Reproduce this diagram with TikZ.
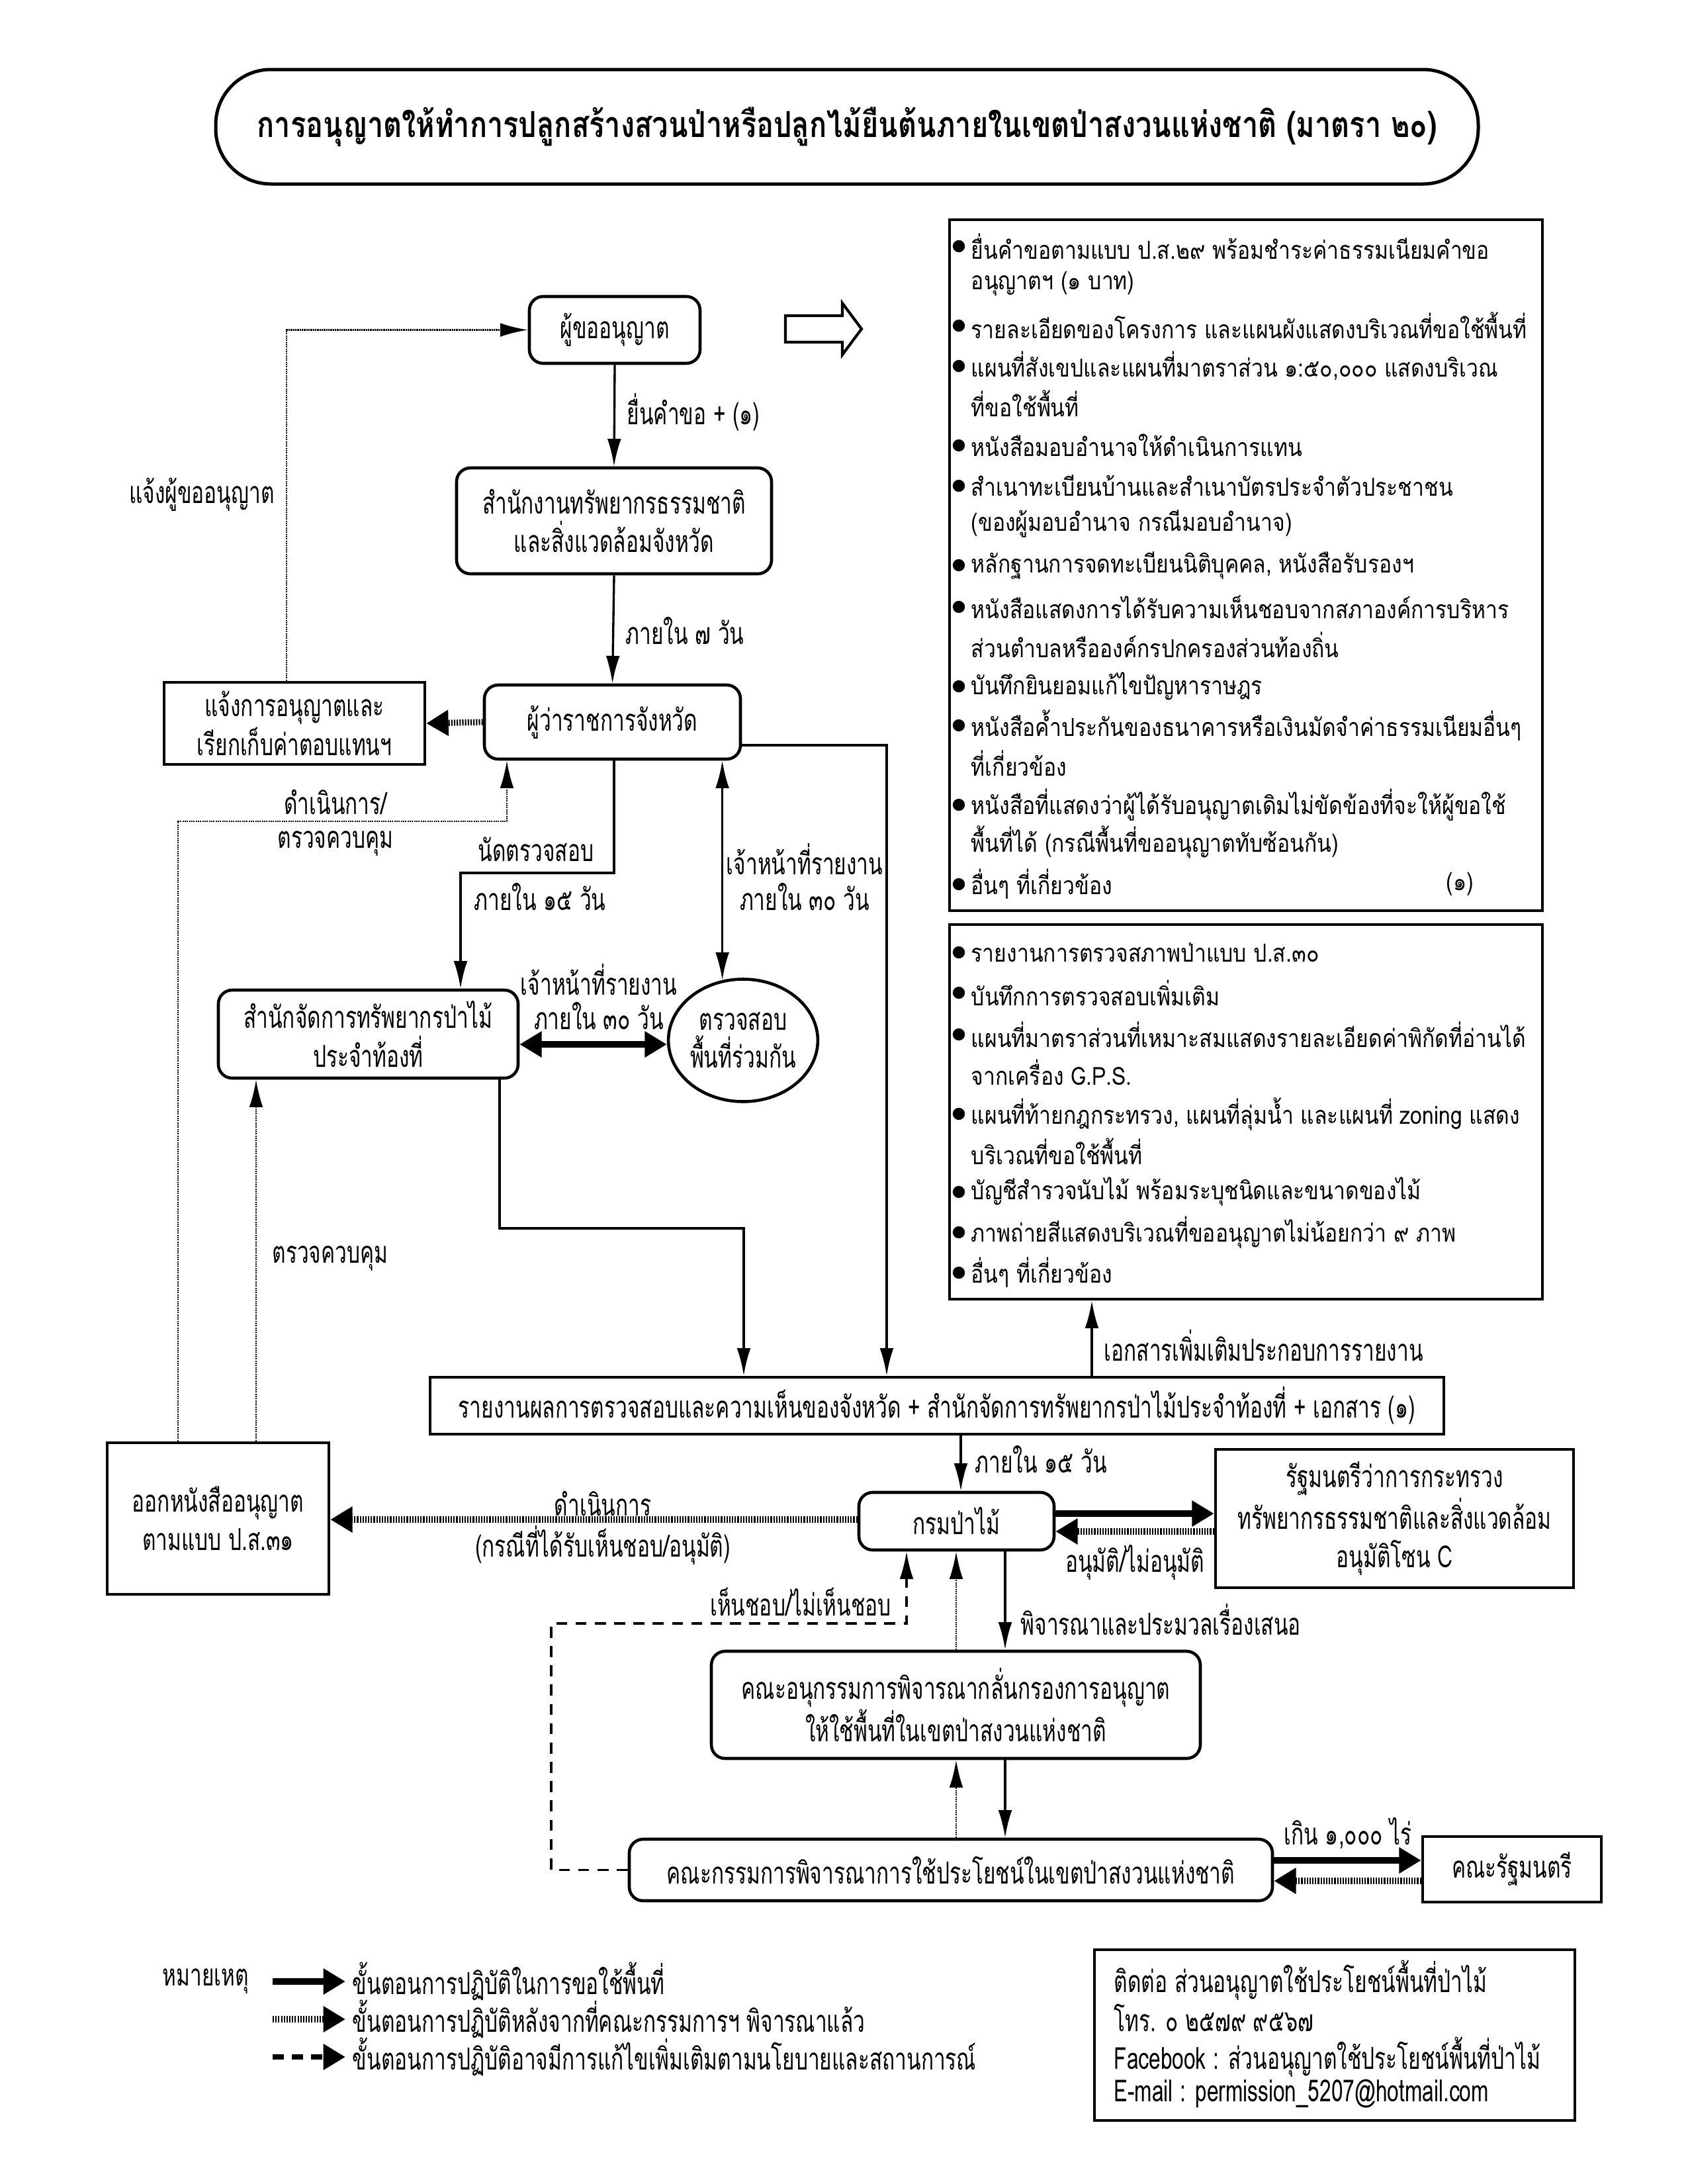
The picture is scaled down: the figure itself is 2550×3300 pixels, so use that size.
\documentclass[tikz,border=0pt]{standalone}
\usepackage{fontspec}
\setmainfont[Script=Thai]{Loma}
\newfontfamily\thc[Script=Thai,FakeStretch=0.69]{Loma}
\newfontfamily\thb[Script=Thai,FakeStretch=0.8]{Loma}
\newfontfamily\thl[Script=Thai,FakeStretch=0.85]{Loma}
\usetikzlibrary{arrows.meta,fit,shapes.geometric}
\begin{document}
\begin{tikzpicture}[x=0.24pt,y=-0.24pt,
  txt/.style={font=\thc\fontsize{11}{14}\selectfont, inner sep=0pt, align=center},
  ltxt/.style={font=\thl\fontsize{9}{12}\selectfont, inner sep=0pt, anchor=west},
  box/.style={draw, line width=1.1pt, inner sep=0pt, align=center, font=\thc\fontsize{11}{13.7}\selectfont},
  rbox/.style={box, rounded corners=5pt},
  arr/.style={line width=0.8pt, -{Latex[length=10pt,width=5pt]}},
  darr/.style={line width=0.8pt, {Latex[length=10pt,width=5pt]}-{Latex[length=10pt,width=5pt]}},
  tkarr/.style={line width=2.2pt, -{Triangle[length=8pt,width=9pt]}},
  tkdarr/.style={line width=2.2pt, {Triangle[length=8pt,width=9pt]}-{Triangle[length=8pt,width=9pt]}},
  dotarr/.style={line width=2.2pt, dash pattern=on 0.5pt off 0.5pt, -{Triangle[length=8pt,width=9pt]}},
  tdot/.style={line width=0.7pt, dash pattern=on 0.5pt off 0.3pt, -{Latex[length=10pt,width=5pt]}},
  dsh/.style={line width=0.8pt, dash pattern=on 4pt off 3pt, -{Latex[length=10pt,width=5pt]}},
  bul/.style={fill=black}
]
\useasboundingbox (0,0) rectangle (2550,3300);

% title
\node[draw, line width=1.2pt, rounded corners=20pt, inner sep=0pt, fit={(326,105) (2234,278)}] (title) {};
\node[font=\thb\bfseries\fontsize{13}{16}\selectfont, inner sep=0pt] (titletext) at (1280,192) {การอนุญาตให้ทำการปลูกสร้างสวนป่าหรือปลูกไม้ยืนต้นภายในเขตป่าสงวนแห่งชาติ (มาตรา ๒๐)};

% boxes
\node[rbox, fit={(800,448) (1058,549)}] (applicant) {};
\node[txt] (applicantT) at (applicant.center) {ผู้ขออนุญาต};
\node[rbox, fit={(690,707) (1166,867)}] (office) {};
\node[txt] (officeT) at (office.center) {สำนักงานทรัพยากรธรรมชาติ\\และสิ่งแวดล้อมจังหวัด};
\node[rbox, fit={(732,1035) (1119,1147)}] (gov) {};
\node[txt] (govT) at (gov.center) {ผู้ว่าราชการจังหวัด};
\node[box, fit={(248,1031) (642,1155)}] (notify) {};
\node[txt] (notifyT) at (notify.center) {แจ้งการอนุญาตและ\\เรียกเก็บค่าตอบแทนฯ};
\node[rbox, fit={(330,1496) (783,1629)}] (forest) {};
\node[txt] (forestT) at (forest.center) {สำนักจัดการทรัพยากรป่าไม้\\ประจำท้องที่};
\node[draw, line width=1.1pt, ellipse, minimum width=50.6pt, minimum height=44.4pt, inner sep=0pt, align=center, font=\thc\fontsize{11}{13.7}\selectfont] (inspect) at (1123,1572) {ตรวจสอบ\\พื้นที่ร่วมกัน};
\node[box, fit={(650,2081) (2182,2167)}] (report) {};
\node[txt] (reportT) at (report.center) {รายงานผลการตรวจสอบและความเห็นของจังหวัด + สำนักจัดการทรัพยากรป่าไม้ประจำท้องที่ + เอกสาร (๑)};
\node[rbox, fit={(1298,2255) (1593,2342)}] (rfd) {};
\node[txt] (rfdT) at (rfd.center) {กรมป่าไม้};
\node[box, fit={(1837,2190) (2378,2399)}] (minister) {};
\node[txt] (ministerT) at (minister.center) {รัฐมนตรีว่าการกระทรวง\\ทรัพยากรธรรมชาติและสิ่งแวดล้อม\\อนุมัติโซน C};
\node[box, fit={(162,2180) (497,2409)}] (issue) {};
\node[txt] (issueT) at (issue.center) {ออกหนังสืออนุญาต\\ตามแบบ ป.ส.๓๑};
\node[rbox, fit={(1075,2495) (1814,2657)}] (subcom) {};
\node[txt] (subcomT) at (subcom.center) {คณะอนุกรรมการพิจารณากลั่นกรองการอนุญาต\\ให้ใช้พื้นที่ในเขตป่าสงวนแห่งชาติ};
\node[rbox, fit={(951,2779) (1923,2872)}] (com) {};
\node[txt] (comT) at (com.center) {คณะกรรมการพิจารณาการใช้ประโยชน์ในเขตป่าสงวนแห่งชาติ};
\node[box, fit={(2150,2775) (2420,2874)}] (cabinet) {};
\node[txt] (cabinetT) at (cabinet.center) {คณะรัฐมนตรี};

% list boxes
\node[box, fit={(1435,332) (2331,1376)}] (list1) {};
\node[box, fit={(1435,1397) (2331,1963)}] (list2) {};
\foreach \y/\t [count=\i] in {372/{ยื่นคำขอตามแบบ ป.ส.๒๙ พร้อมชำระค่าธรรมเนียมคำขอ},
  492/{รายละเอียดของโครงการ และแผนผังแสดงบริเวณที่ขอใช้พื้นที่},
  553/{แผนที่สังเขปและแผนที่มาตราส่วน ๑:๕๐,๐๐๐ แสดงบริเวณ},
  673/{หนังสือมอบอำนาจให้ดำเนินการแทน},
  734/{สำเนาทะเบียนบ้านและสำเนาบัตรประจำตัวประชาชน},
  854/{หลักฐานการจดทะเบียนนิติบุคคล, หนังสือรับรองฯ},
  917/{หนังสือแสดงการได้รับความเห็นชอบจากสภาองค์การบริหาร},
  1037/{บันทึกยินยอมแก้ไขปัญหาราษฎร},
  1096/{หนังสือค้ำประกันของธนาคารหรือเงินมัดจำค่าธรรมเนียมอื่นๆ},
  1216/{หนังสือที่แสดงว่าผู้ได้รับอนุญาตเดิมไม่ขัดข้องที่จะให้ผู้ขอใช้},
  1336/{อื่นๆ ที่เกี่ยวข้อง}}
  {\fill[bul] (1449,\y) circle[radius=2.2pt];
   \node[ltxt] (la\i) at (1467,\y) {\t};}
\foreach \y/\t [count=\i] in {429/{อนุญาตฯ (๑ บาท)},
  610/{ที่ขอใช้พื้นที่},
  791/{(ของผู้มอบอำนาจ กรณีมอบอำนาจ)},
  974/{ส่วนตำบลหรือองค์กรปกครองส่วนท้องถิ่น},
  1153/{ที่เกี่ยวข้อง},
  1273/{พื้นที่ได้ (กรณีพื้นที่ขออนุญาตทับซ้อนกัน)}}
  {\node[ltxt] (lb\i) at (1467,\y) {\t};}
\node[ltxt] (lone) at (2185,1336) {(๑)};
\foreach \y/\t [count=\i] in {1439/{รายงานการตรวจสภาพป่าแบบ ป.ส.๓๐},
  1500/{บันทึกการตรวจสอบเพิ่มเติม},
  1563/{แผนที่มาตราส่วนที่เหมาะสมแสดงรายละเอียดค่าพิกัดที่อ่านได้},
  1683/{แผนที่ท้ายกฎกระทรวง, แผนที่ลุ่มน้ำ และแผนที่ zoning แสดง},
  1801/{บัญชีสำรวจนับไม้ พร้อมระบุชนิดและขนาดของไม้},
  1862/{ภาพถ่ายสีแสดงบริเวณที่ขออนุญาตไม่น้อยกว่า ๙ ภาพ},
  1923/{อื่นๆ ที่เกี่ยวข้อง}}
  {\fill[bul] (1449,\y) circle[radius=2.2pt];
   \node[ltxt] (lc\i) at (1467,\y) {\t};}
\node[ltxt] (ld1) at (1467,1620) {จากเครื่อง G.P.S.};
\node[ltxt] (ld2) at (1467,1740) {บริเวณที่ขอใช้พื้นที่};

% block arrow
\draw[line width=1pt, line join=miter] (1187,477) -- (1273,477) -- (1273,458) -- (1302,497) -- (1273,536) -- (1273,517) -- (1187,517) -- cycle;

% connectors
\draw[arr] (applicant.south) -- (office.north);
\node[txt, anchor=west] (l1) at (947,623) {ยื่นคำขอ + (๑)};
\draw[arr] (office.south) -- (gov.north);
\node[txt, anchor=west] (l2) at (945,953) {ภายใน ๗ วัน};
\draw[dotarr] (gov.west) -- (notify.east);
\draw[tdot] (notify.north -| 433,0) |- (applicant.west);
\node[txt] (l3) at (305,747) {แจ้งผู้ขออนุญาต};
\draw[arr] (gov.south -| 928,0) |- (696,1319) -- (forest.north -| 696,0);
\node[txt] (l4) at (810,1283) {นัดตรวจสอบ};
\node[txt] (l5) at (816,1355) {ภายใน ๑๕ วัน};
\draw[darr] (inspect.109 |- gov.south) -- (inspect.109);
\node[txt] (l6) at (1216,1298) {เจ้าหน้าที่รายงาน};
\node[txt] (l7) at (1216,1355) {ภายใน ๓๐ วัน};
\draw[tkdarr] (forest.east |- 0,1578) -- (inspect.west |- 0,1578);
\node[txt] (l8) at (905,1480) {เจ้าหน้าที่รายงาน};
\node[txt] (l9) at (905,1535) {ภายใน ๓๐ วัน};
\draw[arr] (gov.east |- 0,1126) -| (report.north -| 1340,0);
\draw[arr] (forest.south -| 755,0) |- (1124,1856) -- (report.north -| 1124,0);
\draw[arr] (report.north -| 1650,0) -- (list2.south -| 1650,0);
\node[txt, anchor=west] (l10) at (1668,2033) {เอกสารเพิ่มเติมประกอบการรายงาน};
\draw[arr] (report.south -| 1452,0) -- (rfd.north -| 1452,0);
\node[txt, anchor=west] (l11) at (1473,2205) {ภายใน ๑๕ วัน};
\draw[tkarr] (rfd.east |- 0,2287) -- (minister.west |- 0,2287);
\draw[dotarr] (minister.west |- 0,2314) -- (rfd.east |- 0,2314);
\node[txt] (l12) at (1715,2361) {อนุมัติ/ไม่อนุมัติ};
\draw[dotarr] (rfd.west |- 0,2296) -- (issue.east |- 0,2296);
\node[txt] (l13) at (911,2272) {ดำเนินการ};
\node[txt] (l14) at (911,2335) {(กรณีที่ได้รับเห็นชอบ/อนุมัติ)};
\draw[tdot] (issue.north -| 269,0) |- (766,1241) -- (gov.south -| 766,0);
\node[txt] (l15) at (507,1212) {ดำเนินการ/};
\node[txt] (l16) at (507,1275) {ตรวจควบคุม};
\draw[tdot] (issue.north -| 387,0) -- (forest.south -| 387,0);
\node[txt] (l17) at (499,1902) {ตรวจควบคุม};
\draw[arr] (rfd.south -| 1519,0) -- (subcom.north -| 1519,0);
\node[txt, anchor=west] (l18) at (1542,2447) {พิจารณาและประมวลเรื่องเสนอ};
\draw[tdot] (subcom.north -| 1445,0) -- (rfd.south -| 1445,0);
\draw[dsh] (com.west) -| (833,2453) -| (rfd.south -| 1370,0);
\node[txt] (l19) at (1210,2420) {เห็นชอบ/ไม่เห็นชอบ};
\draw[arr] (subcom.south -| 1519,0) -- (com.north -| 1519,0);
\draw[tdot] (com.north -| 1445,0) -- (subcom.south -| 1445,0);
\draw[tkarr] (com.east |- 0,2811) -- (cabinet.west |- 0,2811);
\draw[dotarr] (cabinet.west |- 0,2842) -- (com.east |- 0,2842);
\node[txt] (l20) at (2037,2770) {เกิน ๑,๐๐๐ ไร่};

% legend
\node[txt] (lg0) at (311,2994) {หมายเหตุ};
\coordinate (a1s) at (412,2994); \coordinate (a1e) at (522,2994);
\coordinate (a2s) at (412,3051); \coordinate (a2e) at (522,3051);
\coordinate (a3s) at (412,3108); \coordinate (a3e) at (522,3108);
\draw[tkarr] (a1s) -- (a1e);
\draw[dotarr] (a2s) -- (a2e);
\draw[line width=2pt, dash pattern=on 4pt off 3pt, -{Triangle[length=8pt,width=9pt]}] (a3s) -- (a3e);
\node[txt, anchor=west] (lg1) at (532,2994) {ขั้นตอนการปฏิบัติในการขอใช้พื้นที่};
\node[txt, anchor=west] (lg2) at (532,3051) {ขั้นตอนการปฏิบัติหลังจากที่คณะกรรมการฯ พิจารณาแล้ว};
\node[txt, anchor=west] (lg3) at (532,3108) {ขั้นตอนการปฏิบัติอาจมีการแก้ไขเพิ่มเติมตามนโยบายและสถานการณ์};

% contact
\node[box, fit={(1654,2946) (2380,3204)}] (contact) {};
\node[txt, anchor=west] (c1) at (1683,2992) {ติดต่อ ส่วนอนุญาตใช้ประโยชน์พื้นที่ป่าไม้};
\node[txt, anchor=west] (c2) at (1683,3049) {โทร. ๐ ๒๕๗๙ ๙๕๖๗};
\node[txt, anchor=west] (c3) at (1683,3108) {Facebook : ส่วนอนุญาตใช้ประโยชน์พื้นที่ป่าไม้};
\node[txt, anchor=west] (c4) at (1683,3164) {E-mail : permission\_5207@hotmail.com};
\end{tikzpicture}
\end{document}
